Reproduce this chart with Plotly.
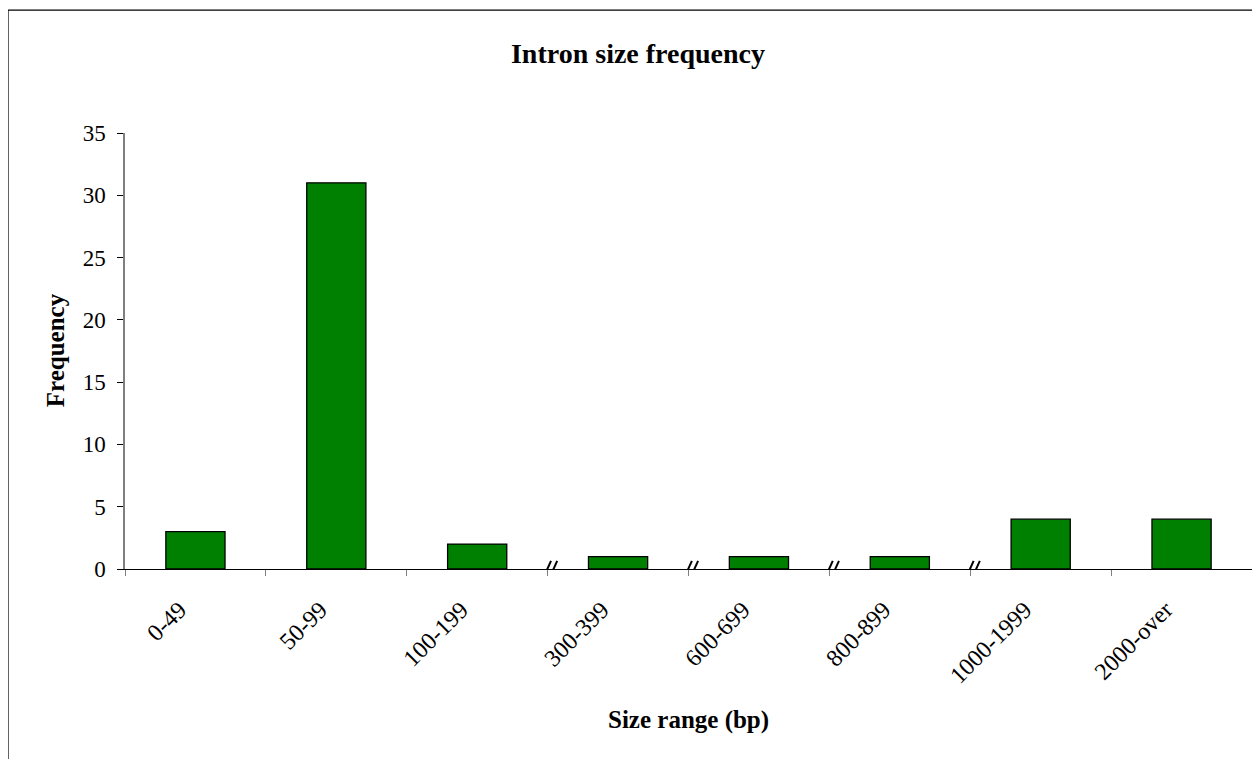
import plotly.graph_objects as go

categories = ["0-49", "50-99", "100-199", "300-399", "600-699", "800-899", "1000-1999", "2000-over"]
frequency = [3, 31, 2, 1, 1, 1, 4, 4]
y_ticks = [0, 5, 10, 15, 20, 25, 30, 35]
break_after = ["100-199", "300-399", "600-699", "800-899"]  # axis breaks after these categories

FONT = "Liberation Serif, Times New Roman, serif"

fig = go.Figure(go.Bar(
    x=categories, y=frequency,
    marker=dict(color="#008000", line=dict(color="black", width=1.3)),
    width=0.42,
))

shapes = []
for c in break_after:
    xb = categories.index(c) + 0.52
    for dx in (-0.022, 0.022):
        shapes.append(dict(type="line", xref="x", yref="y",
                           x0=xb + dx - 0.026, y0=-0.65, x1=xb + dx + 0.026, y1=0.65,
                           line=dict(color="black", width=2)))
# outer chart frame (left and top visible)
shapes.append(dict(type="line", xref="paper", yref="paper", x0=-0.1038, x1=1.02, y0=1.282, y1=1.282,
                   line=dict(color="black", width=1.2)))
shapes.append(dict(type="line", xref="paper", yref="paper", x0=-0.1038, x1=-0.1038, y0=1.282, y1=-0.5,
                   line=dict(color="black", width=1.2)))

fig.update_layout(
    width=1260, height=759,
    margin=dict(l=117, r=16, t=125, b=198, autoexpand=False),
    paper_bgcolor="white", plot_bgcolor="white",
    font=dict(family=FONT, color="black"),
    title=dict(text="<b>Intron size frequency</b>", x=0.5, xanchor="center",
               y=1 - 45 / 759, yanchor="middle", font=dict(size=28, family=FONT)),
    showlegend=False,
    shapes=shapes,
    annotations=[
        dict(text="<b>Size range (bp)</b>", xref="paper", yref="paper", x=0.5, y=-0.346,
             xanchor="center", yanchor="middle", showarrow=False, font=dict(size=25, family=FONT)),
        dict(text="<b>Frequency</b>", xref="paper", yref="paper", x=-0.062, y=0.502, textangle=-90,
             xanchor="center", yanchor="middle", showarrow=False, font=dict(size=25, family=FONT)),
    ],
    xaxis=dict(
        type="category", range=[-0.5, len(categories) - 0.5], automargin=False,
        showline=True, linecolor="black", linewidth=1.3,
        ticks="outside", tickson="boundaries", ticklen=6, tickcolor="#808080",
        tickangle=-45, tickfont=dict(size=24, family=FONT),
        ticklabelstandoff=16, ticklabelshift=-16,
        showgrid=False, zeroline=False,
    ),
    yaxis=dict(
        range=[0, 35], tickvals=y_ticks, automargin=False,
        showline=True, linecolor="#808080", linewidth=1.5,
        ticks="outside", ticklen=6, tickcolor="black",
        tickfont=dict(size=23, family=FONT), ticklabelstandoff=7,
        showgrid=False, zeroline=False,
    ),
)

fig.write_html("out.html")
